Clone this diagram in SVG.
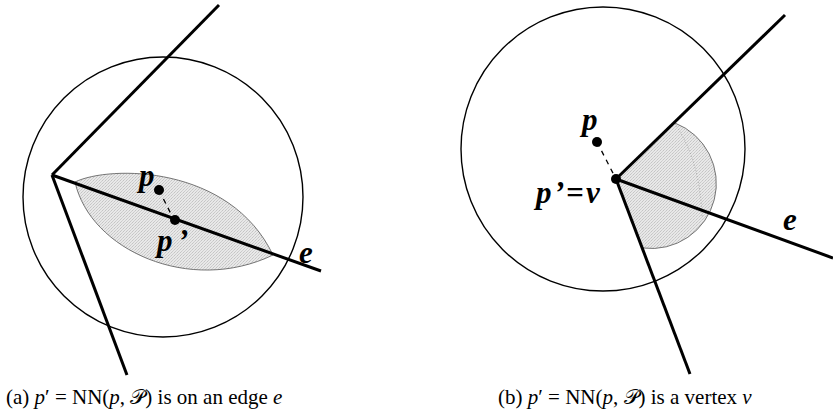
<svg xmlns="http://www.w3.org/2000/svg" width="833" height="414" viewBox="0 0 833 414">
<defs>
<pattern id="stip" width="3" height="3" patternUnits="userSpaceOnUse">
<rect width="3" height="3" fill="#e8e8e8"/>
<rect x="0" y="0" width="1" height="1" fill="#c4c4c4"/>
<rect x="2" y="1" width="1" height="1" fill="#d0d0d0"/>
<rect x="1" y="2" width="1" height="1" fill="#cacaca"/>
</pattern>
</defs>
<style>
.circ{fill:none;stroke:#000;stroke-width:1.4}
.edge{fill:none;stroke:#000;stroke-width:3;stroke-linecap:butt}
.shade{fill:url(#stip);stroke:#555;stroke-width:0.8}
.dash{fill:none;stroke:#000;stroke-width:1.3;stroke-dasharray:5 5}
.lbl{font-family:"Liberation Serif","Times New Roman",serif;font-weight:bold;font-style:italic;font-size:31px;fill:#000}
.cap{font-family:"Liberation Serif","Times New Roman",serif;font-size:21px;fill:#000}
.it{font-style:italic}
</style>
<g id="figure-a">
<g id="circle-a"><circle class="circ" cx="163" cy="197" r="140"/></g>
<g id="region-a"><path class="shade" d="M75,182 C110,165 230,165 273,255 C190,295 90,250 75,182 Z"/></g>
<g id="connectors-a">
<line class="edge" x1="52" y1="175" x2="219" y2="5"/>
<line class="edge" x1="52" y1="175" x2="127" y2="375"/>
<line class="edge" x1="52" y1="175" x2="321" y2="271"/>
<line class="dash" x1="159" y1="190" x2="174" y2="220"/>
</g>
<g id="point-p-a"><circle cx="159" cy="190" r="5"/><text class="lbl" x="139" y="186">p</text></g>
<g id="point-pp-a"><circle cx="175" cy="220" r="5"/><text class="lbl" x="157" y="251">p</text><text class="lbl" x="178" y="251">’</text></g>
<g id="label-e-a"><text class="lbl" x="299" y="263">e</text></g>
<text class="cap" x="6" y="404">(a) <tspan class="it">p</tspan>′ = NN(<tspan class="it">p</tspan>, 𝒫) is on an edge <tspan class="it">e</tspan></text>
</g>
<g id="figure-b">
<g id="circle-b"><circle class="circ" cx="603" cy="149" r="142"/></g>
<g id="region-b"><path class="shade" d="M616,179 L675,123 A65,65 0 0 1 643,248 Z"/>
<path d="M675,124 Q700,160 702,216" fill="none" stroke="#999" stroke-width="0.8" stroke-dasharray="1 2"/></g>
<g id="connectors-b">
<line class="edge" x1="616" y1="179" x2="785" y2="15"/>
<line class="edge" x1="616" y1="179" x2="690" y2="374"/>
<line class="edge" x1="616" y1="179" x2="833" y2="258"/>
<line class="dash" x1="597" y1="142" x2="616" y2="179"/>
</g>
<g id="point-p-b"><circle cx="597" cy="142" r="5"/><text class="lbl" x="582" y="130">p</text></g>
<g id="point-v-b"><circle cx="616" cy="179" r="5"/><text class="lbl" x="536" y="203">p</text><text class="lbl" x="554" y="203">’</text><text class="lbl" x="566" y="203">=</text><text class="lbl" x="586" y="203">v</text></g>
<g id="label-e-b"><text class="lbl" x="783" y="230">e</text></g>
<text class="cap" x="498" y="404">(b) <tspan class="it">p</tspan>′ = NN(<tspan class="it">p</tspan>, 𝒫) is a vertex <tspan class="it">v</tspan></text>
</g>
</svg>
